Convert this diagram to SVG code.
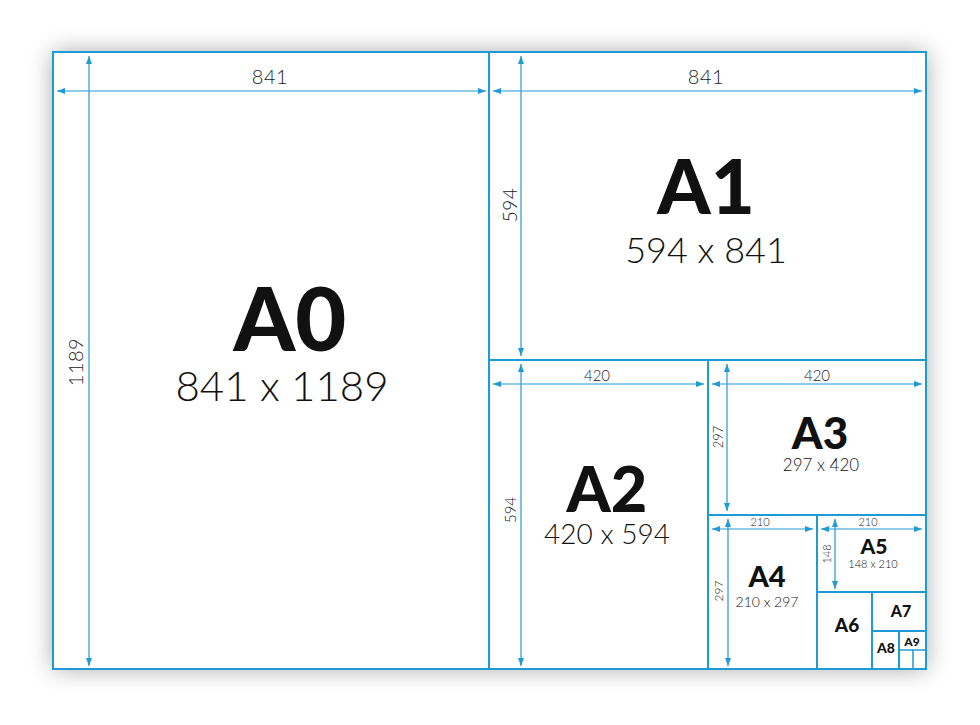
<svg xmlns="http://www.w3.org/2000/svg" width="980" height="725" viewBox="0 0 980 725">
<defs>
<filter id="sh" x="-10%" y="-10%" width="120%" height="120%">
<feGaussianBlur in="SourceAlpha" stdDeviation="12"/>
<feComponentTransfer><feFuncA type="linear" slope="0.35"/></feComponentTransfer>
<feMerge><feMergeNode/><feMergeNode in="SourceGraphic"/></feMerge>
</filter>
<marker id="ar" viewBox="0 0 8 6" refX="8" refY="3" markerWidth="8" markerHeight="6" markerUnits="userSpaceOnUse" orient="auto-start-reverse">
<path d="M0,0 L8,3 L0,6 Z" fill="#1e9ad6"/>
</marker>
</defs>
<style>
.fr{fill:none;stroke:#1e9ad6;stroke-width:2}
.dim{stroke:#1e9ad6;stroke-width:1.2;fill:none;marker-start:url(#ar);marker-end:url(#ar)}
.big{font-family:Lato,"Liberation Sans",sans-serif;font-weight:900;fill:#111;text-anchor:middle}
.sz{font-family:Lato,"Liberation Sans",sans-serif;font-weight:300;fill:#111;text-anchor:middle}
.dl{font-family:Lato,"Liberation Sans",sans-serif;font-weight:300;fill:#222;text-anchor:middle}
</style>
<rect width="980" height="725" fill="#ffffff"/>
<rect x="53" y="52" width="873" height="617" fill="#ffffff" filter="url(#sh)"/>

<g id="frame">
<rect class="fr" x="53" y="52" width="873" height="617"/>
<line class="fr" x1="489" y1="52" x2="489" y2="669"/>
<line class="fr" x1="489" y1="360" x2="926" y2="360"/>
<line class="fr" x1="708" y1="360" x2="708" y2="669"/>
<line class="fr" x1="708" y1="515" x2="926" y2="515"/>
<line class="fr" x1="817" y1="515" x2="817" y2="669"/>
<line class="fr" x1="817" y1="592" x2="926" y2="592"/>
<line class="fr" x1="872" y1="592" x2="872" y2="669"/>
<line class="fr" x1="872" y1="631" x2="926" y2="631"/>
<line class="fr" x1="899" y1="631" x2="899" y2="669"/>
<line class="fr" x1="899" y1="650" x2="926" y2="650" style="stroke-width:1.5"/>
<line class="fr" x1="913" y1="650" x2="913" y2="669" style="stroke-width:1.5"/>
</g>

<g id="connectors">
<line class="dim" x1="57" y1="91" x2="486" y2="91"/>
<line class="dim" x1="89" y1="56" x2="89" y2="666"/>
<line class="dim" x1="493" y1="91" x2="922" y2="91"/>
<line class="dim" x1="521" y1="56" x2="521" y2="356"/>
<line class="dim" x1="493" y1="384" x2="704" y2="384"/>
<line class="dim" x1="521" y1="364" x2="521" y2="666"/>
<line class="dim" x1="712" y1="384" x2="922" y2="384"/>
<line class="dim" x1="727" y1="364" x2="727" y2="511"/>
<line class="dim" x1="712" y1="529" x2="813" y2="529"/>
<line class="dim" x1="728" y1="519" x2="728" y2="666"/>
<line class="dim" x1="821" y1="529" x2="922" y2="529"/>
<line class="dim" x1="835" y1="519" x2="835" y2="589"/>
</g>

<g id="dimlabels">
<text class="dl" x="270" y="84" font-size="20" letter-spacing="0.5">841</text>
<text class="dl" x="706" y="84" font-size="20" letter-spacing="0.5">841</text>
<text class="dl" transform="translate(83,362) rotate(-90)" font-size="20" letter-spacing="0.5">1189</text>
<text class="dl" transform="translate(517,205) rotate(-90)" font-size="19" letter-spacing="0.5">594</text>
<text class="dl" x="597" y="381" font-size="15">420</text>
<text class="dl" x="817" y="381" font-size="15">420</text>
<text class="dl" transform="translate(516,510) rotate(-90)" font-size="15">594</text>
<text class="dl" transform="translate(723,437) rotate(-90)" font-size="13">297</text>
<text class="dl" x="760" y="526" font-size="11">210</text>
<text class="dl" x="868" y="526" font-size="11">210</text>
<text class="dl" transform="translate(723,591) rotate(-90)" font-size="12">297</text>
<text class="dl" transform="translate(831,554) rotate(-90)" font-size="11">148</text>
</g>

<g id="A0">
<text class="big" x="290" y="351" font-size="88">A0</text>
<text class="sz" x="282" y="401" font-size="42">841 x 1189</text>
</g>
<g id="A1">
<text class="big" x="706" y="214" font-size="76">A1</text>
<text class="sz" x="706" y="263" font-size="36">594 x 841</text>
</g>
<g id="A2">
<text class="big" x="607" y="512" font-size="63">A2</text>
<text class="sz" x="607" y="544" font-size="28">420 x 594</text>
</g>
<g id="A3">
<text class="big" x="820" y="449" font-size="44">A3</text>
<text class="sz" x="821" y="471" font-size="17">297 x 420</text>
</g>
<g id="A4">
<text class="big" x="767" y="587" font-size="29">A4</text>
<text class="sz" x="767" y="607" font-size="14">210 x 297</text>
</g>
<g id="A5">
<text class="big" x="874" y="554" font-size="21">A5</text>
<text class="sz" x="873" y="568" font-size="11">148 x 210</text>
</g>
<g id="A6"><text class="big" x="847" y="632" font-size="19">A6</text></g>
<g id="A7"><text class="big" x="901" y="617" font-size="16">A7</text></g>
<g id="A8"><text class="big" x="886" y="653" font-size="14">A8</text></g>
<g id="A9"><text class="big" x="912" y="646" font-size="12">A9</text></g>
</svg>
